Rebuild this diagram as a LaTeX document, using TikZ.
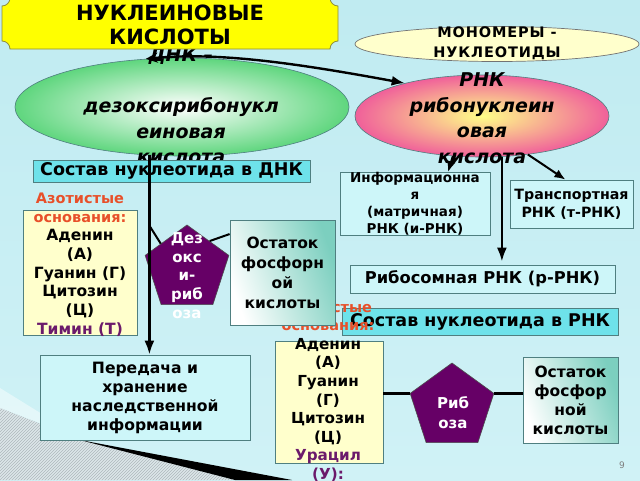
\documentclass[tikz,border=0pt]{standalone}
\usepackage{fontspec}
\setmainfont{DejaVu Sans}
\usetikzlibrary{shapes.geometric,arrows.meta,patterns}
\definecolor{bgtop}{HTML}{C0EBF1}
\definecolor{bgbot}{HTML}{D0F2F6}
\definecolor{plaque}{HTML}{FFFF00}
\definecolor{plaqueline}{HTML}{8C8C3C}
\definecolor{cyanbox}{HTML}{6EE2EA}
\definecolor{lightbox}{HTML}{CDF6F9}
\definecolor{boxline}{HTML}{4F7F80}
\definecolor{paleyellow}{HTML}{FFFFCC}
\definecolor{purp}{HTML}{660066}
\definecolor{purptext}{HTML}{6B1A6B}
\definecolor{redtext}{HTML}{E8502A}
\definecolor{tealc}{HTML}{7CCFBF}
\definecolor{greenedge}{HTML}{5FD67E}
\definecolor{pinkedge}{HTML}{F0609A}
\definecolor{yellowmid}{HTML}{FFFF88}
\definecolor{hatchc}{HTML}{AEB8BC}
\definecolor{hatchbase}{HTML}{DCE6E9}
\begin{document}
\begin{tikzpicture}[x=1pt,y=-1pt,
  box/.style={draw=boxline, line width=0.8pt, inner sep=0pt, align=center, font=\bfseries},
  txt/.style={inner sep=0pt, align=center, font=\bfseries},
  conn/.style={line width=2.6pt, black},
  thinconn/.style={line width=2pt, black},
  arr/.style={line width=2.4pt, -{Latex[length=14pt,width=10pt]}},
  sarr/.style={line width=2pt, -{Latex[length=11pt,width=9pt]}},
  pent/.style={regular polygon, regular polygon sides=5, minimum size=88, inner sep=0pt, fill=purp, draw=black!70, line width=0.6pt},
]
\useasboundingbox (0,0) rectangle (640,480);
% background
\shade[top color=bgtop, bottom color=bgbot] (0,0) rectangle (640,480);
\fill[white, opacity=0.45] (0,388) -- (84,440) -- (0,408) -- cycle;
\fill[hatchbase] (0,408) -- (82,440) -- (235,480) -- (0,480) -- cycle;
\fill[pattern=north east lines, pattern color=hatchc] (0,408) -- (82,440) -- (235,480) -- (0,480) -- cycle;
\fill[black] (80,440) -- (292,480) -- (235,480) -- cycle;

% monomers ellipse
\node[ellipse, draw=black!55, line width=0.7pt, fill=paleyellow, minimum width=284, minimum height=35, inner sep=0pt] (mono) at (497,44) {};
\node[txt, font=\fontsize{14.5}{20}\selectfont\bfseries\addfontfeature{LetterSpace=6}] (monotxt) at (497,43) {МОНОМЕРЫ -\\НУКЛЕОТИДЫ};

% DNA ellipse
\node[ellipse, draw=boxline, line width=0.6pt, minimum width=334, minimum height=98, inner sep=0pt, shade, shading=radial, inner color=white, outer color=greenedge] (dna) at (182,107) {};
\node[txt, font=\fontsize{19}{25.5}\selectfont\bfseries\itshape] (dnatxt) at (181,106) {ДНК –\\\strut\\дезоксирибонукл\\еиновая\\кислота};

% RNA ellipse
\node[ellipse, draw=boxline, line width=0.6pt, minimum width=254, minimum height=82, inner sep=0pt, shade, shading=radial, inner color=yellowmid, outer color=pinkedge] (rna) at (482,116) {};
\node[txt, font=\fontsize{19}{25.5}\selectfont\bfseries\itshape] (rnatxt) at (482,118) {РНК\\рибонуклеин\\овая\\кислота};

% title plaque
\path[fill=plaque, draw=plaqueline, line width=0.8pt] (2,6) -- (2,41) .. controls (6.4,41) and (10,44.6) .. (10,49) -- (330,49) .. controls (330,44.6) and (333.6,41) .. (338,41) -- (338,6) .. controls (333.6,6) and (330,2.4) .. (330,-2) -- (10,-2) .. controls (10,2.4) and (6.4,6) .. (2,6) -- cycle;
\node[txt, font=\fontsize{21}{24}\selectfont\bfseries] (title) at (170,25) {НУКЛЕИНОВЫЕ\\КИСЛОТЫ};

% DNA composition
\node[box, fill=cyanbox, minimum width=277, minimum height=22, font=\fontsize{17.5}{18}\selectfont\bfseries] (sostavD) at (171.5,171) {Состав нуклеотида в ДНК};
\node[box, fill=paleyellow, minimum width=114, minimum height=125] (dbases) at (80,272.5) {};
\node[txt, font=\fontsize{15.5}{18.7}\selectfont\bfseries] (dbasestxt) at (80,264.5) {{\color{redtext}\fontsize{14.5}{18.7}\selectfont Азотистые}\\{\color{redtext}\fontsize{14.5}{18.7}\selectfont основания:}\\Аденин\\(А)\\Гуанин (Г)\\Цитозин\\(Ц)\\{\color{purptext}Тимин (Т)}};

% RNA types
\node[box, fill=lightbox, minimum width=150, minimum height=58, font=\fontsize{13.5}{17}\selectfont\bfseries] (info) at (415,204) {Информационна\\я\\(матричная)\\РНК (и-РНК)};
\node[box, fill=lightbox, minimum width=123, minimum height=48, font=\fontsize{14.2}{18}\selectfont\bfseries] (trans) at (571.5,204) {Транспортная\\РНК (т-РНК)};
\node[box, fill=lightbox, minimum width=265, minimum height=28, font=\fontsize{16.3}{18}\selectfont\bfseries] (ribo) at (482.5,279) {Рибосомная РНК (р-РНК)};

% RNA composition
\node[box, fill=cyanbox, minimum width=276, minimum height=27, font=\fontsize{17.5}{18}\selectfont\bfseries] (sostavR) at (480,321.5) {Состав нуклеотида в РНК};
\node[box, fill=paleyellow, minimum width=108, minimum height=122] (rbases) at (329,402) {};
\node[txt, font=\fontsize{15.2}{18.6}\selectfont\bfseries] (rbasestxt) at (328,391.5) {{\color{redtext}\fontsize{14.5}{18.6}\selectfont Азотистые}\\{\color{redtext}\fontsize{14.5}{18.6}\selectfont основания:}\\Аденин\\(А)\\Гуанин\\(Г)\\Цитозин\\(Ц)\\{\color{purptext}Урацил}\\{\color{purptext}(У):}};

% DNA nucleotide
\node[pent] (dpent) at (187,269) {};
\node[txt, text=white, font=\fontsize{15}{18.75}\selectfont\bfseries] (dpenttxt) at (187,275.5) {Дез\\окс\\и-\\риб\\оза};
\node[box, shade, left color=white, right color=tealc, shading angle=110, minimum width=105, minimum height=105, font=\fontsize{15.5}{20}\selectfont\bfseries] (dphos) at (282.5,272.5) {Остаток\\фосфорн\\ой\\кислоты};

% transfer box
\node[box, fill=lightbox, minimum width=210, minimum height=85, font=\fontsize{15.6}{19}\selectfont\bfseries] (pered) at (145,397.5) {Передача и\\хранение\\наследственной\\информации};

% RNA nucleotide
\node[pent] (rpent) at (452,407) {};
\node[txt, text=white, font=\fontsize{15}{20}\selectfont\bfseries] (rpenttxt) at (453,413) {Риб\\оза};
\node[box, shade, left color=white, right color=tealc, shading angle=110, minimum width=95, minimum height=86, font=\fontsize{15.5}{19}\selectfont\bfseries] (rphos) at (570.5,400) {Остаток\\фосфор\\ной\\кислоты};

% page number
\node[inner sep=0pt, text=black!50, font=\fontsize{9}{10}\selectfont] (pagenum) at (622,465) {9};

% connectors
\coordinate (dlink) at (149,225);
\draw[thinconn] (dlink) -- (dpent.136);
\draw[thinconn] (dpent.51) -- (dphos.144);
\draw[conn] (rpent.162) -- (rpent.162 -| rbases.east);
\draw[conn] (rpent.18) -- (rpent.18 -| rphos.west);

% arrows
\draw[line width=2.4pt, {Stealth[length=12pt,width=10pt]}-{Latex[length=13pt,width=10pt]}] (dna.127) .. controls (215,52) and (290,62) .. (rna.157);
\draw[arr] (dna.236) -- (dna.236 |- pered.north);
\draw[arr] (rna.296) -- ([yshift=3pt]rna.296 |- ribo.north);
\draw[sarr] (rna.234) -- (info.44);
\draw[sarr] (rna.-40) -- (trans.104);
\end{tikzpicture}
\end{document}
